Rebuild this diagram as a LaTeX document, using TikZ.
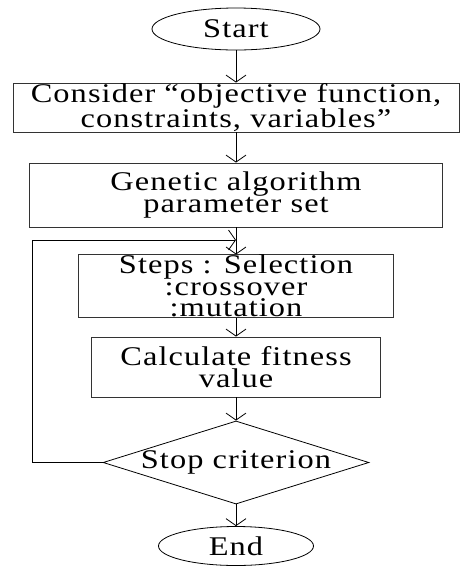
\documentclass[tikz,border=0pt]{standalone}
\usepackage{fontspec}
\setmainfont{Liberation Serif}[FakeStretch=1.2,LetterSpace=4]
\usetikzlibrary{arrows.meta,shapes}
\tikzset{>={Straight Barb[length=7pt,width=20pt]}}
\tikzstyle{terminal}=[ellipse,draw=black,line width=0.8pt,inner sep=0pt]
\tikzstyle{process}=[rectangle,draw=black!80,line width=0.9pt,inner sep=0pt,align=center]
\tikzstyle{decision}=[diamond,draw=black,line width=0.8pt,inner sep=0pt,aspect=3.2]
\tikzstyle{flow}=[->,line width=0.8pt]

\begin{document}
\begin{tikzpicture}[x=1pt,y=1pt,font=\fontsize{27}{21.5}\selectfont]
\def \cx {236};
\def \back {32};

\useasboundingbox (0,0) rectangle (460,-566);

\node[terminal,minimum width=168pt,minimum height=42pt] (start) at (\cx,-29) {Start};
\node[process,minimum width=446pt,minimum height=49pt] (consider) at (\cx,-107.5)
    {Consider “objective function,\\constraints, variables”};
\node[process,minimum width=413pt,minimum height=64pt] (gaparam) at (\cx,-195)
    {Genetic algorithm\\parameter set};
\node[process,minimum width=315pt,minimum height=62pt] (steps) at (\cx,-286)
    {Steps : Selection\\:crossover\\:mutation};
\node[process,minimum width=289pt,minimum height=60pt] (fitness) at (\cx,-367)
    {Calculate fitness\\value};
\node[decision,minimum width=258pt,minimum height=81pt] (stop) at (\cx,-462.5) {Stop criterion};
\node[terminal,minimum width=155pt,minimum height=39pt] (finish) at (\cx,-546) {End};

\foreach \a/\b in {start/consider,consider/gaparam,gaparam/steps,steps/fitness,fitness/stop,stop/finish} {
	\draw[flow] (\a) -- (\b);
};

% loop back from the decision
\coordinate (merge) at (\cx,-240);
\draw[flow] (stop.west) -- (\back,-462.5) -- (\back,-240) -- (merge);

\end{tikzpicture}
\end{document}
